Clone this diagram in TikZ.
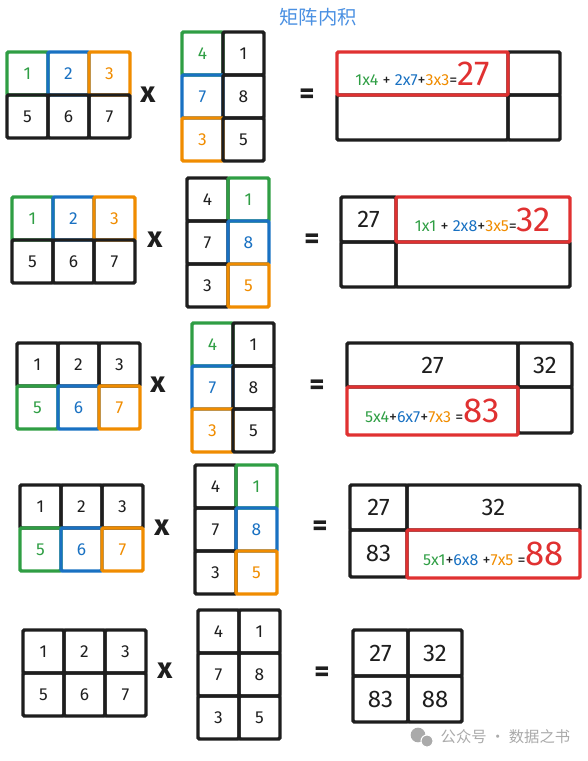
\documentclass[tikz,border=0pt]{standalone}
\usepackage{fontspec}
\setmainfont{Fira Sans}
\newfontfamily\cjk{Noto Sans CJK SC}
\usetikzlibrary{positioning}
\definecolor{ink}{RGB}{30,30,30}
\definecolor{cgreen}{RGB}{47,158,68}
\definecolor{cblue}{RGB}{25,113,194}
\definecolor{corange}{RGB}{240,140,0}
\definecolor{cred}{RGB}{224,49,49}
\definecolor{ctitle}{RGB}{74,144,226}
\definecolor{wmgray}{RGB}{170,170,170}
\newcommand{\eqsz}{\fontsize{12}{14}\selectfont}
\newcommand{\ressz}{\fontsize{26}{28}\selectfont}

\begin{document}
\begin{tikzpicture}[
    x=0.75pt, y=-0.75pt,
    cell/.style={draw=ink, line width=2.6pt, rounded corners=1pt, outer sep=0pt, inner sep=0pt,
                 minimum width=30.75pt, minimum height=32.25pt, text=ink, font=\fontsize{13}{15}\selectfont},
    rcell/.style={cell, font=\fontsize{18}{20}\selectfont},
    redbox/.style={cell, draw=cred, font=\eqsz},
    sign/.style={text=ink, font=\bfseries\fontsize{22}{22}\selectfont},
    eqsign/.style={text=ink, font=\bfseries\fontsize{22}{22}\selectfont}
]
\useasboundingbox (0,0) rectangle (588,761);

\node[font=\cjk\fontsize{14.5}{16}\selectfont, text=ctitle] (title) at (318,17) {矩阵内积};

% row 1
\foreach \v/\c [count=\i from 0] in {1/cgreen,2/cblue,3/corange,5/ink,6/ink,7/ink}
  \node[cell, draw=\c, text=\c] (a1-\i) at ({7+20.5+41*mod(\i,3)},{52+21.5+43*div(\i,3)}) {\v};
\node[sign] (times1) at (148,95) {x};
\foreach \v/\c [count=\i from 0] in {4/cgreen,1/ink,7/cblue,8/ink,3/corange,5/ink}
  \node[cell, draw=\c, text=\c] (b1-\i) at ({182+20.5+41*mod(\i,2)},{32+21.5+43*div(\i,2)}) {\v};
\node[eqsign] (eq1) at (307,96) {=};
\node[rcell, minimum width=39pt] (r1b) at (534,73.5) {};
\node[rcell, minimum width=39pt, minimum height=33.75pt, below=0pt of r1b] (r1d) {};
\node[rcell, minimum width=128.25pt, minimum height=33.75pt, left=0pt of r1d] (r1c) {};
\node[redbox, minimum width=128.25pt, above=0pt of r1c] (r1a)
  {\textcolor{cgreen}{1x4} + \textcolor{cblue}{2x7}+\textcolor{corange}{3x3}=\textcolor{cred}{\ressz 27}};

% row 2
\foreach \v/\c [count=\i from 0] in {1/cgreen,2/cblue,3/corange,5/ink,6/ink,7/ink}
  \node[cell, draw=\c, text=\c] (a2-\i) at ({12+20.5+41*mod(\i,3)},{197+21.5+43*div(\i,3)}) {\v};
\node[sign] (times2) at (155,240) {x};
\foreach \v/\c [count=\i from 0] in {4/ink,1/cgreen,7/ink,8/cblue,3/ink,5/corange}
  \node[cell, draw=\c, text=\c] (b2-\i) at ({187+20.5+41*mod(\i,2)},{178+21.5+43*div(\i,2)}) {\v};
\node[eqsign] (eq2) at (312,241) {=};
\node[rcell, minimum width=41.25pt, minimum height=33.75pt] (r2a) at (368.5,219.5) {27};
\node[rcell, minimum width=41.25pt, minimum height=33.75pt, below=0pt of r2a] (r2c) {};
\node[rcell, minimum width=130.5pt, minimum height=33.75pt, right=0pt of r2c] (r2d) {};
\node[redbox, minimum width=130.5pt, minimum height=33.75pt, above=0pt of r2d] (r2b)
  {\textcolor{cgreen}{1x1} + \textcolor{cblue}{2x8}+\textcolor{corange}{3x5}=\textcolor{cred}{\ressz 32}};

% row 3
\foreach \v/\c [count=\i from 0] in {1/ink,2/ink,3/ink,5/cgreen,6/cblue,7/corange}
  \node[cell, draw=\c, text=\c] (a3-\i) at ({17+20.5+41*mod(\i,3)},{343+21.5+43*div(\i,3)}) {\v};
\node[sign] (times3) at (158,385) {x};
\foreach \v/\c [count=\i from 0] in {4/cgreen,1/ink,7/cblue,8/ink,3/corange,5/ink}
  \node[cell, draw=\c, text=\c] (b3-\i) at ({192+20.5+41*mod(\i,2)},{323+21.5+43*div(\i,2)}) {\v};
\node[eqsign] (eq3) at (317,387) {=};
\node[rcell, minimum width=128.25pt, minimum height=33pt] (r3a) at (432.5,365) {27};
\node[rcell, minimum width=40.5pt, minimum height=33pt, right=0pt of r3a] (r3b) {32};
\node[rcell, minimum width=40.5pt, minimum height=34.5pt, below=0pt of r3b] (r3d) {};
\node[redbox, minimum width=128.25pt, minimum height=36pt, below=0pt of r3a] (r3c)
  {\textcolor{cgreen}{5x4}+\textcolor{cblue}{6x7}+\textcolor{corange}{7x3} =\textcolor{cred}{\ressz 83}};

% row 4
\foreach \v/\c [count=\i from 0] in {1/ink,2/ink,3/ink,5/cgreen,6/cblue,7/corange}
  \node[cell, draw=\c, text=\c] (a4-\i) at ({20+20.5+41*mod(\i,3)},{485+21.5+43*div(\i,3)}) {\v};
\node[sign] (times4) at (162,528) {x};
\foreach \v/\c [count=\i from 0] in {4/ink,1/cgreen,7/ink,8/cblue,3/ink,5/corange}
  \node[cell, draw=\c, text=\c] (b4-\i) at ({195+20.5+41*mod(\i,2)},{465+21.5+43*div(\i,2)}) {\v};
\node[eqsign] (eq4) at (320,528) {=};
\node[rcell, minimum width=42.75pt, minimum height=33.75pt] (r4a) at (378.5,507.5) {27};
\node[rcell, minimum width=129.75pt, minimum height=33.75pt, right=0pt of r4a] (r4b) {32};
\node[rcell, minimum width=42.75pt, minimum height=35.25pt, below=0pt of r4a] (r4c) {83};
\node[redbox, minimum width=129.75pt, minimum height=36pt, below=0pt of r4b] (r4d)
  {\textcolor{cgreen}{5x1}+\textcolor{cblue}{6x8} +\textcolor{corange}{7x5} =\textcolor{cred}{\ressz 88}};

% row 5
\foreach \v [count=\i from 0] in {1,2,3,5,6,7}
  \node[cell] (a5-\i) at ({23+20.5+41*mod(\i,3)},{630+21.5+43*div(\i,3)}) {\v};
\node[sign] (times5) at (165,671) {x};
\foreach \v [count=\i from 0] in {4,1,7,8,3,5}
  \node[cell] (b5-\i) at ({198+20.5+41*mod(\i,2)},{610+21.5+43*div(\i,2)}) {\v};
\node[eqsign] (eq5) at (322,674) {=};
\node[rcell, minimum width=41.25pt, minimum height=34.5pt] (r5a) at (380.5,653) {27};
\node[rcell, minimum width=40.5pt, minimum height=34.5pt, right=0pt of r5a] (r5b) {32};
\node[rcell, minimum width=41.25pt, minimum height=34.5pt, below=0pt of r5a] (r5c) {83};
\node[rcell, minimum width=40.5pt, minimum height=34.5pt, below=0pt of r5b] (r5d) {88};

% watermark
\fill[wmgray] (418,735) circle (5.5pt);
\fill[wmgray, draw=white, line width=0.8pt] (427,741) circle (4.5pt);
\node[text=wmgray, font=\cjk\fontsize{11.5}{13}\selectfont, anchor=west] (wm) at (436,737) {公众号 · 数据之书};
\end{tikzpicture}
\end{document}
